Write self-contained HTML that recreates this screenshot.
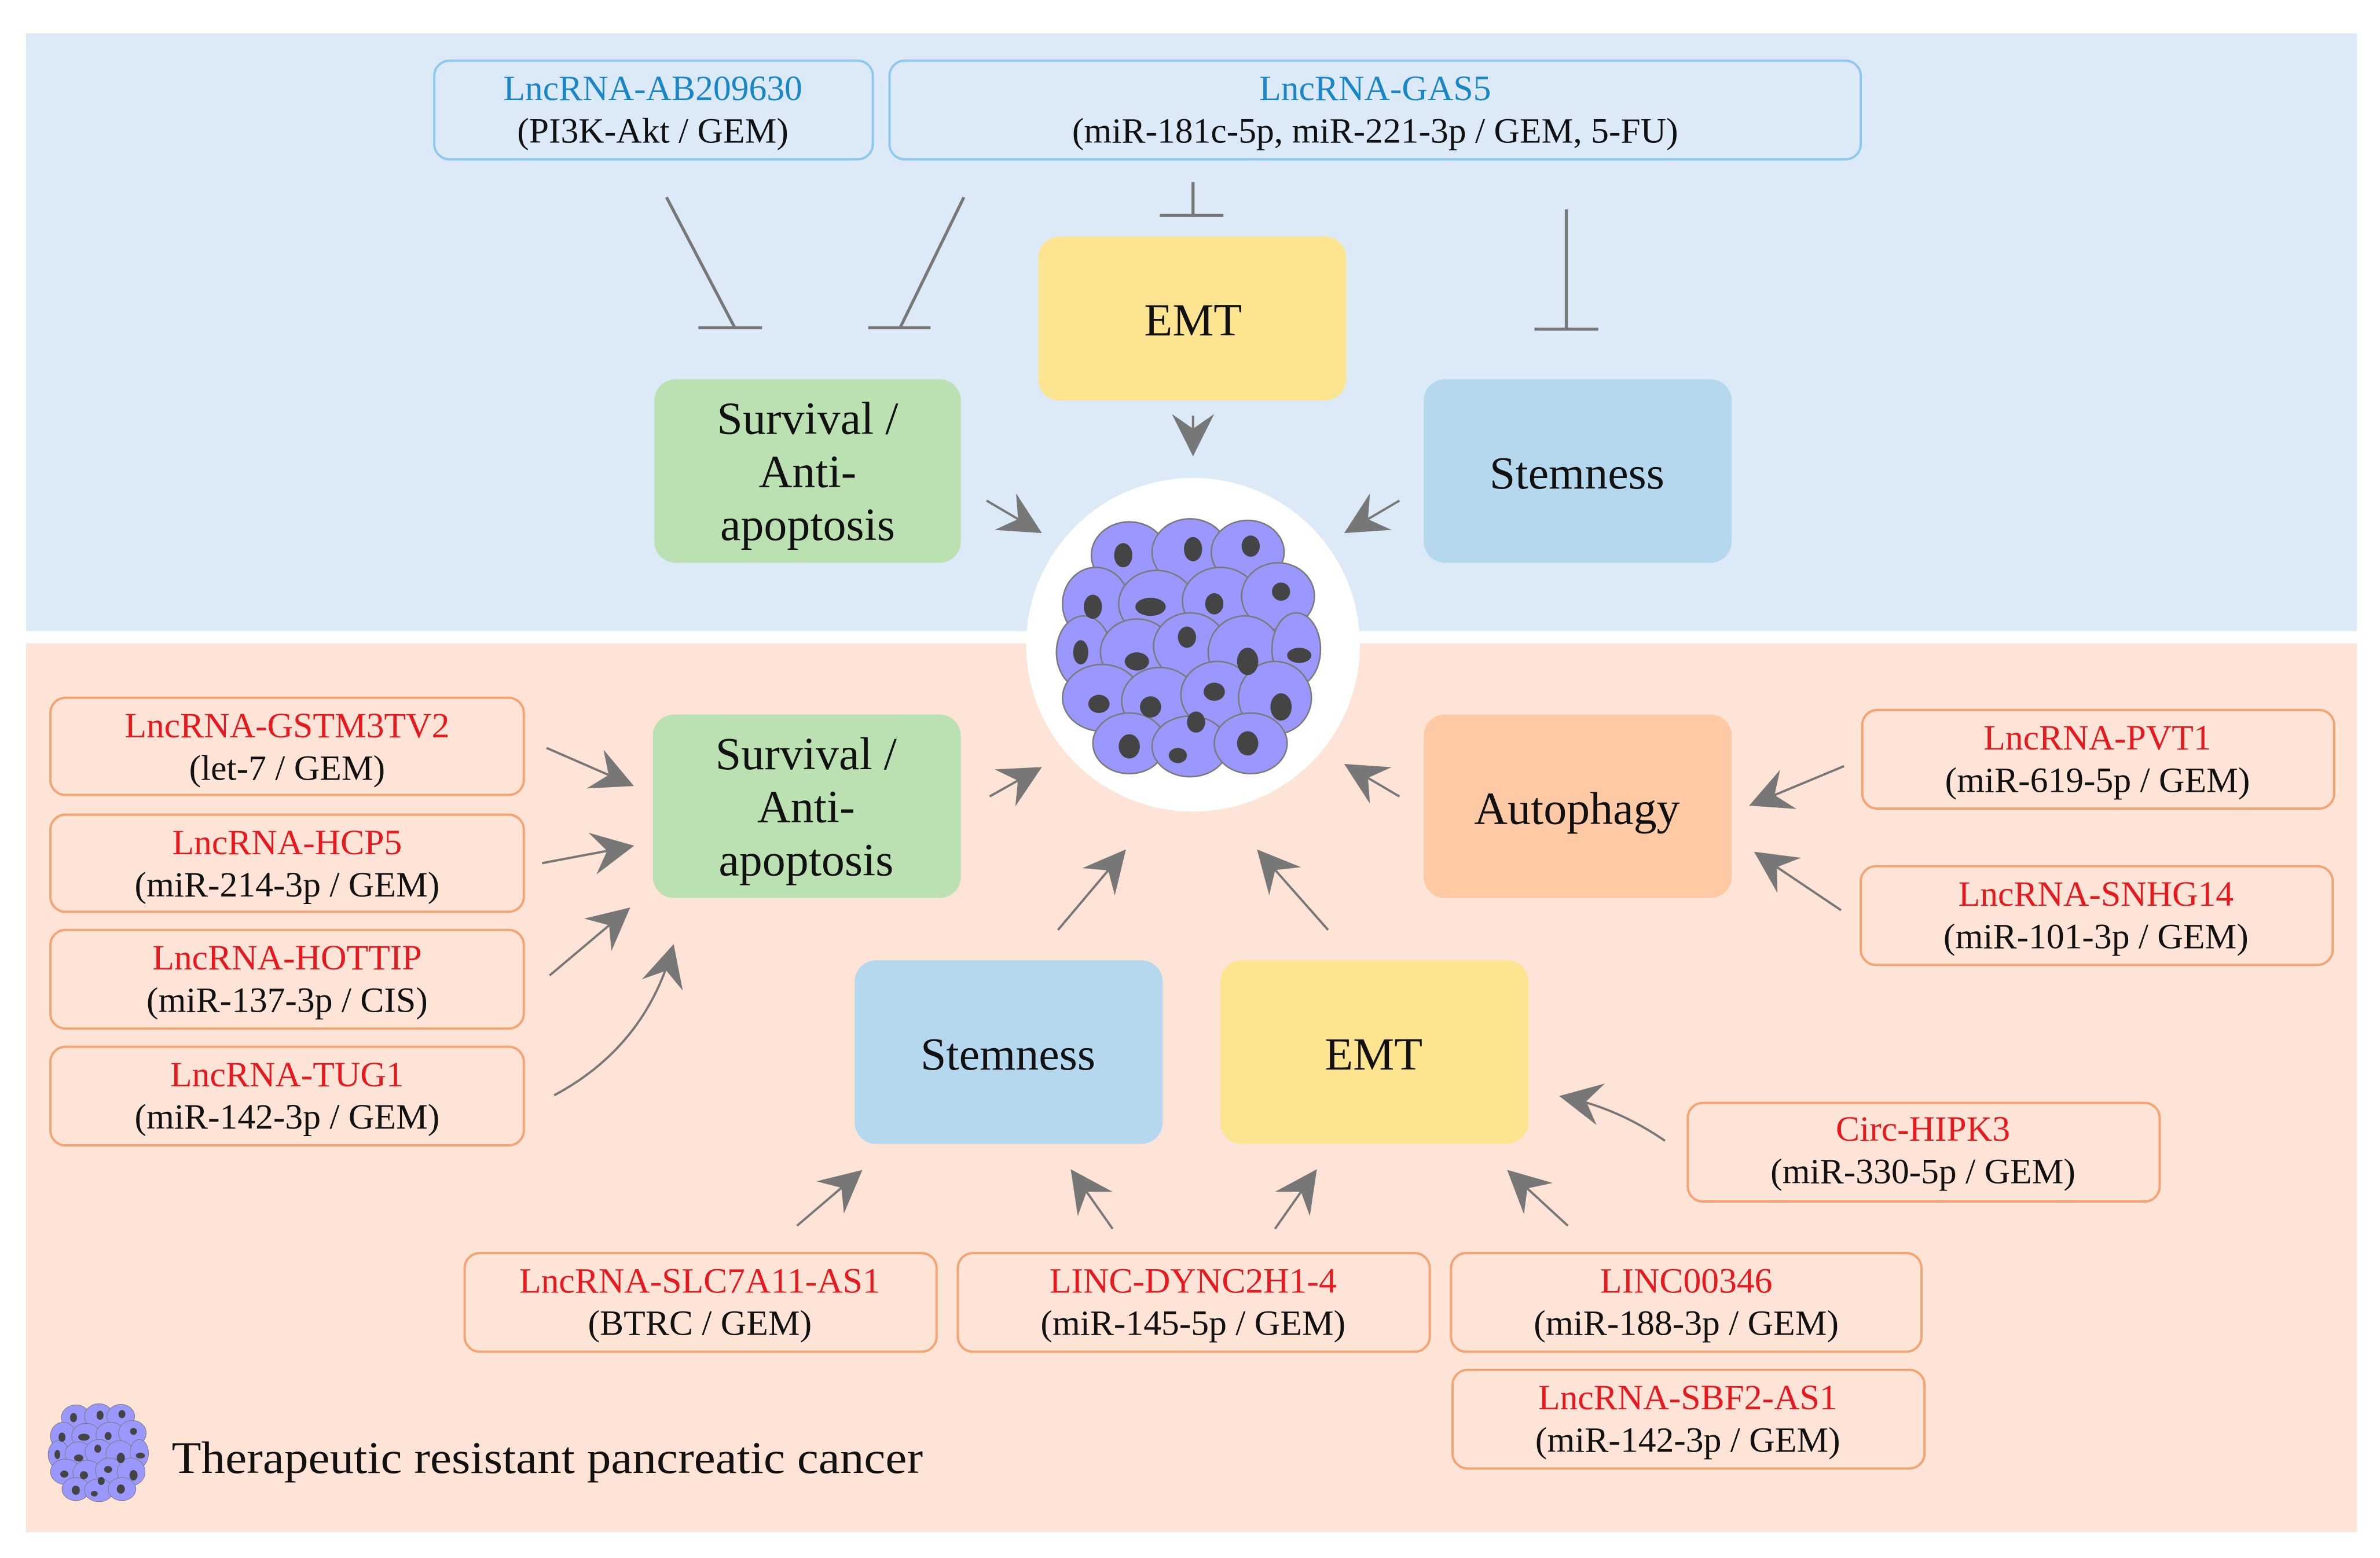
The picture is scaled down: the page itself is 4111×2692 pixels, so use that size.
<!DOCTYPE html>
<html><head><meta charset="utf-8"><style>
html,body{margin:0;padding:0;background:#fff}
svg{display:block}
text{font-family:"Liberation Serif",serif}
</style></head><body>
<svg width="4111" height="2692" viewBox="0 0 1568 1027" xmlns="http://www.w3.org/2000/svg">
<defs>
<marker id="ah" viewBox="0 0 10 10" refX="9" refY="5" markerWidth="30" markerHeight="28" markerUnits="userSpaceOnUse" orient="auto">
<path d="M0,0 L10,5 L0,10 L3.5,5 z" fill="#777"/>
</marker>
<g id="cl">
<g fill="#9a98fe" stroke="#7a7a7a" stroke-width="1">
<ellipse cx="-40" cy="-62" rx="25" ry="22"/><ellipse cx="0" cy="-64" rx="25" ry="22"/><ellipse cx="38" cy="-64" rx="24" ry="21"/>
<ellipse cx="-62" cy="-30" rx="22" ry="24"/><ellipse cx="-22" cy="-30" rx="25" ry="22"/><ellipse cx="20" cy="-32" rx="25" ry="22"/><ellipse cx="58" cy="-35" rx="24" ry="22"/>
<ellipse cx="-70" cy="2" rx="18" ry="24"/><ellipse cx="-35" cy="2" rx="24" ry="22"/><ellipse cx="0" cy="-2" rx="24" ry="22"/><ellipse cx="36" cy="2" rx="24" ry="24"/><ellipse cx="70" cy="0" rx="16" ry="24"/>
<ellipse cx="-58" cy="32" rx="26" ry="22"/><ellipse cx="-20" cy="34" rx="25" ry="22"/><ellipse cx="18" cy="30" rx="24" ry="22"/><ellipse cx="56" cy="32" rx="24" ry="24"/>
<ellipse cx="-40" cy="62" rx="24" ry="20"/><ellipse cx="0" cy="64" rx="25" ry="20"/><ellipse cx="40" cy="62" rx="24" ry="20"/>
</g>
<g fill="#444">
<ellipse cx="-44" cy="-62" rx="6" ry="8"/><ellipse cx="2" cy="-66" rx="6" ry="8"/><ellipse cx="40" cy="-68" rx="6" ry="7"/>
<ellipse cx="-64" cy="-28" rx="6" ry="8"/><ellipse cx="-26" cy="-28" rx="10" ry="6"/><ellipse cx="16" cy="-30" rx="6" ry="7"/><ellipse cx="60" cy="-38" rx="6" ry="6"/>
<ellipse cx="-72" cy="2" rx="5" ry="8"/><ellipse cx="-35" cy="8" rx="8" ry="6"/><ellipse cx="-2" cy="-8" rx="6" ry="7"/><ellipse cx="38" cy="8" rx="7" ry="9"/><ellipse cx="72" cy="4" rx="8" ry="5"/>
<ellipse cx="-60" cy="36" rx="7" ry="6"/><ellipse cx="-26" cy="38" rx="7" ry="7"/><ellipse cx="16" cy="28" rx="7" ry="6"/><ellipse cx="60" cy="38" rx="7" ry="9"/>
<ellipse cx="-40" cy="64" rx="7" ry="8"/><ellipse cx="-8" cy="70" rx="6" ry="5"/><ellipse cx="38" cy="62" rx="7" ry="8"/><ellipse cx="4" cy="48" rx="6" ry="7"/>
</g>
</g>
</defs>
<rect x="17" y="22" width="1536" height="394" fill="#dbeaf6"/>
<rect x="17" y="424" width="1536" height="586" fill="#fee4d6"/>

<g stroke="#8ec8ef" stroke-width="1.5" fill="#dbeaf6">
<rect x="286" y="40" width="289" height="65" rx="10"/>
<rect x="586" y="40" width="640" height="65" rx="10"/>
</g>
<g font-size="23.5" text-anchor="middle">
<text x="430" y="66" fill="#1a86c8">LncRNA-AB209630</text>
<text x="430" y="94" fill="#111">(PI3K-Akt / GEM)</text>
<text x="906" y="66" fill="#1a86c8">LncRNA-GAS5</text>
<text x="906" y="94" fill="#111">(miR-181c-5p, miR-221-3p / GEM, 5-FU)</text>
</g>
<g stroke="#777" stroke-width="2" fill="none">
<path d="M439,130 L484,216 M460,216 H502"/>
<path d="M635,130 L593,216 M572,216 H613"/>
<path d="M786,120 V142 M764,142 H806"/>
<path d="M1032,138 V217 M1011,217 H1053"/>
</g>

<rect x="684" y="156" width="203" height="108" rx="14" fill="#fde490"/>
<rect x="431" y="250" width="202" height="121" rx="14" fill="#bbe0b1"/>
<rect x="938" y="250" width="203" height="121" rx="14" fill="#b5d8ef"/>
<rect x="430" y="471" width="203" height="121" rx="14" fill="#bbe0b1"/>
<rect x="938" y="471" width="203" height="121" rx="14" fill="#fdcaa5"/>
<rect x="563" y="633" width="203" height="121" rx="14" fill="#b5d8ef"/>
<rect x="804" y="633" width="203" height="121" rx="14" fill="#fde490"/>
<g font-size="30.5" text-anchor="middle" fill="#111">
<text x="786" y="221">EMT</text>
<text x="532" y="286">Survival /</text><text x="532" y="321">Anti-</text><text x="532" y="356">apoptosis</text>
<text x="1039" y="322">Stemness</text>
<text x="531" y="507">Survival /</text><text x="531" y="542">Anti-</text><text x="531" y="577">apoptosis</text>
<text x="1039" y="543">Autophagy</text>
<text x="664" y="705">Stemness</text>
<text x="905" y="705">EMT</text>
</g>

<circle cx="786" cy="425" r="110" fill="#fff"/>
<use href="#cl" transform="translate(784,428)"/>

<g stroke="#777" stroke-width="1.5" fill="none" marker-end="url(#ah)">
<path d="M786,274 L786,298"/>
<path d="M650,330 L684,350"/>
<path d="M922,330 L888,350"/>
<path d="M652,525 L684,507"/>
<path d="M922,525 L888,505"/>
<path d="M697,613 L740,562"/>
<path d="M875,613 L830,562"/>
<path d="M360,493 L415,517"/>
<path d="M357,569 L415,558"/>
<path d="M362,643 L413,600"/>
<path d="M365,722 Q425,690 443,625"/>
<path d="M1215,505 L1155,530"/>
<path d="M1213,600 L1158,563"/>
<path d="M1097,752 Q1065,730 1030,723"/>
<path d="M525,808 L566,773"/>
<path d="M733,810 L707,773"/>
<path d="M840,810 L866,773"/>
<path d="M1033,808 L995,773"/>
</g>

<g stroke="#f5a370" stroke-width="1.5" fill="#fee4d6">
<rect x="33" y="460" width="312" height="64" rx="10"/>
<rect x="33" y="537" width="312" height="64" rx="10"/>
<rect x="33" y="613" width="312" height="65" rx="10"/>
<rect x="33" y="690" width="312" height="65" rx="10"/>
<rect x="1227" y="468" width="311" height="65" rx="10"/>
<rect x="1226" y="571" width="311" height="65" rx="10"/>
<rect x="1112" y="727" width="311" height="65" rx="10"/>
<rect x="306" y="826" width="311" height="65" rx="10"/>
<rect x="631" y="826" width="311" height="65" rx="10"/>
<rect x="956" y="826" width="310" height="65" rx="10"/>
<rect x="957" y="903" width="311" height="65" rx="10"/>
</g>
<g font-size="23.5" text-anchor="middle">
<text x="189" y="486" fill="#e8191e">LncRNA-GSTM3TV2</text><text x="189" y="514" fill="#111">(let-7 / GEM)</text>
<text x="189" y="563" fill="#e8191e">LncRNA-HCP5</text><text x="189" y="591" fill="#111">(miR-214-3p / GEM)</text>
<text x="189" y="639" fill="#e8191e">LncRNA-HOTTIP</text><text x="189" y="667" fill="#111">(miR-137-3p / CIS)</text>
<text x="189" y="716" fill="#e8191e">LncRNA-TUG1</text><text x="189" y="744" fill="#111">(miR-142-3p / GEM)</text>
<text x="1382" y="494" fill="#e8191e">LncRNA-PVT1</text><text x="1382" y="522" fill="#111">(miR-619-5p / GEM)</text>
<text x="1381" y="597" fill="#e8191e">LncRNA-SNHG14</text><text x="1381" y="625" fill="#111">(miR-101-3p / GEM)</text>
<text x="1267" y="752" fill="#e8191e">Circ-HIPK3</text><text x="1267" y="780" fill="#111">(miR-330-5p / GEM)</text>
<text x="461" y="852" fill="#e8191e">LncRNA-SLC7A11-AS1</text><text x="461" y="880" fill="#111">(BTRC / GEM)</text>
<text x="786" y="852" fill="#e8191e">LINC-DYNC2H1-4</text><text x="786" y="880" fill="#111">(miR-145-5p / GEM)</text>
<text x="1111" y="852" fill="#e8191e">LINC00346</text><text x="1111" y="880" fill="#111">(miR-188-3p / GEM)</text>
<text x="1112" y="929" fill="#e8191e">LncRNA-SBF2-AS1</text><text x="1112" y="957" fill="#111">(miR-142-3p / GEM)</text>
</g>

<use href="#cl" transform="translate(65,958) scale(0.38)"/>
<text x="113" y="971" font-size="30" fill="#111" textLength="495" lengthAdjust="spacingAndGlyphs">Therapeutic resistant pancreatic cancer</text>
</svg>
</body></html>
